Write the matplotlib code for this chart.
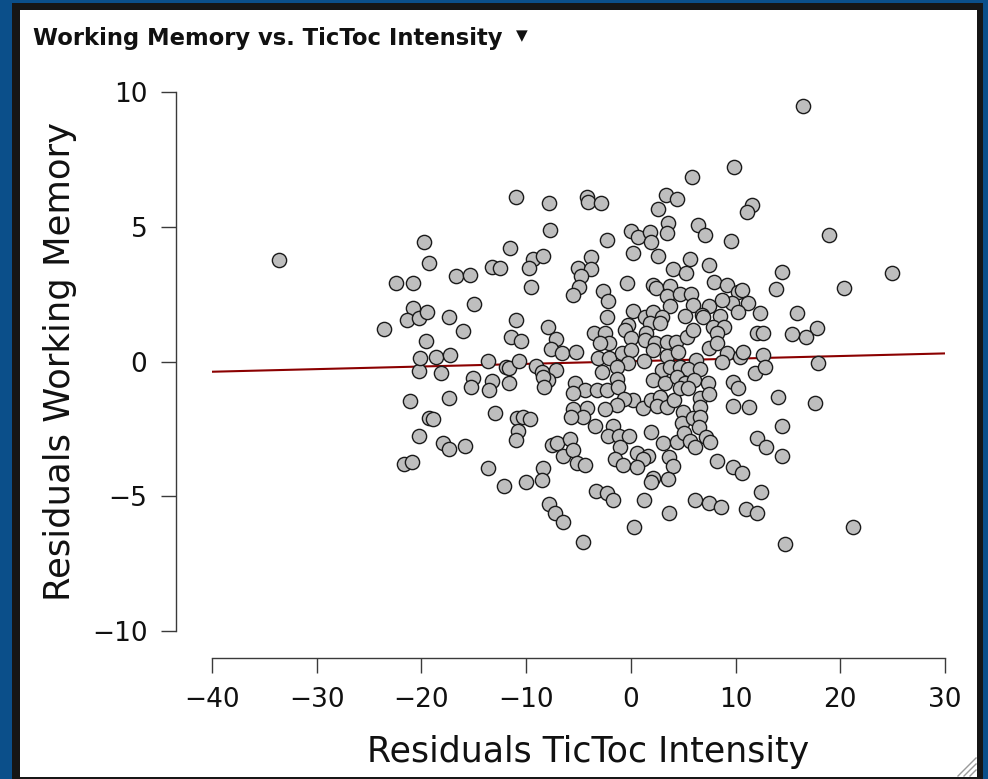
import matplotlib
matplotlib.use("Agg")
import matplotlib.pyplot as plt
from matplotlib.patches import Rectangle
from matplotlib.lines import Line2D

# residuals
res_tictoc = [
    -33.6, -23.6, -22.4, -20.8, -20.8, -21.4, -20.2, -21.1, -21.7, -20.9,
    -20.2, -20.2, -20.1, -19.6, -19.8, -19.3, -19.5, -19.3,
    -11.0, -7.86, -7.74, -11.56, -13.3, -12.5, -9.33, -8.43, -9.71, -16.7,
    -15.4, -9.58, -15.0, -17.4, -16.0, -11.0, -7.96, -11.4, -10.5, -7.16,
    -7.64, -18.6, -17.3, -18.1, -13.6, -11.9, -11.6, -10.7, -9.07, -8.53,
    -7.16, -7.90, -8.38, -8.31, -15.1, -15.3, -13.3, -13.5, -11.6, -17.4,
    -13.0, -18.9, -10.9, -10.3, -9.65, -10.8, -11.0, -17.9, -17.4, -15.8,
    -7.57, -7.04, -13.6, -8.43, -8.53, -12.1, -10.06, -7.80, -7.26, -6.62,
    -6.52,
    5.80, 9.84, -4.17, -4.08, -2.87, 3.31, 4.36, 2.55, 11.6, 11.05,
    -0.03, 0.70, 1.81, 1.97, 3.56, 3.41, 6.43, 7.07, -2.32, 9.52,
    0.22, 2.61, -3.85, -5.03, -3.85, -4.80, -4.94, -5.51, -2.64, -2.17,
    -0.35, 3.98, 5.25, 5.64, 7.48, 2.13, 2.39, 3.72, 3.41, 4.68,
    5.70, 3.72, 5.89, 5.16, 7.93, 9.14, 10.25, 10.57, 9.62, 11.15,
    10.19, 7.48, 8.66, 6.75, 8.50, -2.32, 0.22, 1.34, 2.13, 2.93,
    -0.26, 1.81, 2.77, -0.57, -3.53, -2.48, -2.07, -2.96, 0.06, 1.43,
    1.34, 2.29, 3.41, 4.30, 5.32, 5.95, 6.91, 7.80, 8.88, 8.18,
    12.3, 12.0, 12.64, 7.48, 8.18, 9.14, 10.4, 10.7, -5.25, -3.12,
    -2.07, -0.89, 0.06, 2.13, -0.26, 1.24, 3.41, 4.52, 6.21, 8.66,
    11.84, -2.80, -1.37, -1.31, 2.93, 3.72, 4.68, 5.48, 6.59, 2.13,
    3.25, 4.36, 5.16, 6.02, 7.39, 9.77, 10.25, -5.35, -4.39, -3.28,
    -2.26, -1.21, -5.51, 0.16, -0.67, -1.37, -2.48, 1.12, 1.97, 2.83,
    2.52, 3.41, 4.11, 6.59, 6.65, 7.48, 9.71, 11.27, -4.23, -5.51,
    -4.55, -3.44, -5.67, 4.94, 4.84, 5.95, 6.65, 6.52, -1.69, 1.97,
    -2.17, -1.12, -0.16, 3.09, 4.36, 5.06, 5.64, 6.11, 7.16, 7.55,
    -1.05, -5.83, -5.57, -1.53, 0.54, 1.65, 1.12, -0.74, 0.54, -5.13,
    -4.39, 3.66, 4.04, 8.18, 9.77, 10.57, 12.0, 4.68, 5.48, 2.13,
    16.46, 18.94, 14.45, 13.85, 15.83,
    17.89, 17.57, 14.07, 14.45, 14.45, 12.87, 12.42, 14.71, 17.74, 16.71,
    15.41, 12.64, 12.8, 6.11, 7.48, 8.57, 10.95, 12.0, 1.24, 3.66,
    0.29, 1.97, 3.56,
    24.96, 20.34, 21.23,
    -6.46, -4.61, -3.34, -2.32, -1.75,
]
res_wm = [
    3.77, 1.20, 2.90, 2.90, 2.00, 1.54, 1.60, -1.47, -3.80, -3.73,
    -2.76, -0.35, 0.13, 0.76, 4.43, 3.65, 1.84, -2.10,
    6.11, 5.87, 4.88, 4.20, 3.52, 3.48, 3.79, 3.91, 3.47, 3.17,
    3.21, 2.78, 2.12, 1.64, 1.12, 1.54, 1.29, 0.92, 0.76, 0.82,
    0.45, 0.18, 0.24, -0.44, 0.02, -0.19, -0.25, 0.02, -0.17, -0.38,
    -0.32, -0.69, -0.59, -0.93, -0.62, -0.96, -0.72, -1.06, -0.81, -1.37,
    -1.90, -2.14, -2.11, -2.07, -2.15, -2.57, -2.91, -3.01, -3.25, -3.14,
    -3.10, -3.04, -3.96, -3.96, -4.40, -4.62, -4.46, -5.29, -5.63, 0.33,
    -3.51,
    6.83, 7.23, 6.11, 5.93, 5.87, 6.18, 6.02, 5.65, 5.81, 5.56,
    4.84, 4.63, 4.82, 4.45, 5.13, 4.76, 5.06, 4.69, 4.51, 4.48,
    4.01, 3.91, 3.87, 3.46, 3.42, 3.17, 2.75, 2.47, 2.63, 2.26,
    2.90, 3.42, 3.30, 3.79, 3.58, 2.84, 2.72, 2.80, 2.43, 2.50,
    2.50, 2.06, 2.10, 1.69, 2.96, 2.84, 2.59, 2.65, 2.18, 2.16,
    1.85, 2.06, 2.28, 1.73, 1.69, 1.66, 1.89, 1.66, 1.85, 1.66,
    1.35, 1.42, 1.42, 1.17, 1.05, 1.05, 0.68, 0.68, 0.86, 1.05,
    0.80, 0.68, 0.73, 0.73, 0.92, 1.17, 1.66, 1.29, 1.29, 1.05,
    1.79, 1.05, 1.05, 0.49, 0.68, 0.33, 0.18, 0.36, 0.36, 0.12,
    0.12, 0.30, 0.43, 0.43, -0.04, 0.03, 0.20, 0.36, 0.06, -0.01,
    -0.41, -0.38, -0.22, -0.66, -0.32, -0.19, -0.19, -0.29, -0.29, -0.69,
    -0.81, -0.56, -0.79, -0.69, -0.81, -0.75, -0.99, -0.81, -1.06, -1.06,
    -1.06, -0.93, -1.18, -1.43, -1.40, -1.61, -1.77, -1.74, -1.43, -1.31,
    -1.65, -1.68, -1.43, -1.37, -1.68, -1.21, -1.65, -1.70, -1.74, -1.77,
    -2.07, -2.39, -2.05, -1.86, -2.29, -2.11, -2.05, -2.42, -2.39, -2.60,
    -2.76, -2.76, -2.76, -3.01, -2.98, -2.66, -2.94, -3.16, -2.79, -2.98,
    -3.16, -2.89, -3.28, -3.63, -3.38, -3.51, -3.63, -3.84, -3.90, -3.78,
    -3.84, -3.56, -3.88, -3.68, -3.90, -4.15, -2.85, -0.99, -0.99, -4.33,
    9.48, 4.69, 3.31, 2.68, 1.81,
    -0.04, -1.53, -1.31, -2.39, -3.51, -3.18, -4.83, -6.77, 1.23, 0.92,
    1.02, 0.24, -0.19, -5.14, -5.24, -5.39, -5.49, -5.61, -5.14, -5.63,
    -6.13, -4.46, -4.37,
    3.27, 2.74, -6.13,
    -5.94, -6.69, -4.79, -4.87, -5.14,
]

# fitted regression line, end points
fit_x = [-40, 30]
fit_y = [-0.38, 0.30]

x_ticks = [-40, -30, -20, -10, 0, 10, 20, 30]
y_ticks = [-10, -5, 0, 5, 10]

W, H = 988, 779
fig = plt.figure(figsize=(W / 100, H / 100), dpi=100)
fig.patch.set_facecolor("#0b4f8a")

# dark window border and white panel
fig.add_artist(Rectangle((12 / W, 0), (983 - 12) / W, (H - 3) / H,
                         transform=fig.transFigure, facecolor="#161616",
                         edgecolor="none", zorder=-3))
fig.add_artist(Rectangle((20 / W, 2 / H), (977 - 20) / W, (777 - 10) / H,
                         transform=fig.transFigure, facecolor="white",
                         edgecolor="none", zorder=-2))
# resize grip
for k in range(3):
    off = 6 * k
    fig.add_artist(Line2D([(958 + off) / W, 976 / W],
                          [(H - 776) / H, (H - 758 - off) / H],
                          transform=fig.transFigure, color="#9a9a9a", lw=1))

ax = fig.add_axes([212 / W, 148 / H, 733 / W, 539 / H])
ax.set_facecolor("none")

ax.plot(fit_x, fit_y, color="#8b0000", lw=1.5, zorder=2)
ax.scatter(res_tictoc, res_wm, s=105, facecolor="#bebebe", edgecolor="#1a1a1a",
           linewidth=1.0, zorder=3, clip_on=False)

ax.set_xlim(-40, 30)
ax.set_ylim(-10, 10)
ax.set_xticks(x_ticks)
ax.set_yticks(y_ticks)

for side in ("top", "right"):
    ax.spines[side].set_visible(False)
ax.spines["left"].set_position(("outward", 26))
ax.spines["bottom"].set_position(("outward", 19.5))
ax.spines["left"].set_bounds(-10, 10)
ax.spines["bottom"].set_bounds(-40, 30)
for side in ("left", "bottom"):
    ax.spines[side].set_color("#3a3a3a")
    ax.spines[side].set_linewidth(1.0)

ax.tick_params(axis="both", direction="out", length=10.5, width=1.0,
               color="#3a3a3a", labelsize=19, pad=10, labelcolor="#111111")

ax.set_xlabel("Residuals TicToc Intensity", fontsize=25, color="#111111")
ax.xaxis.set_label_coords((588 - 212) / 733, (631 - 735) / 539)
ax.set_ylabel("Residuals Working Memory", fontsize=25.5, color="#111111")
ax.yaxis.set_label_coords((77 - 212) / 733, 0.5)

fig.text(33 / W, 1 - 38 / H, "Working Memory vs. TicToc Intensity",
         fontsize=16.3, fontweight="bold", ha="left", va="center", color="#111111")
fig.text(522 / W, 1 - 36 / H, "\u25BC", fontsize=11, ha="center", va="center",
         color="#111111")

fig.savefig("out.png", dpi=100, facecolor=fig.get_facecolor())
